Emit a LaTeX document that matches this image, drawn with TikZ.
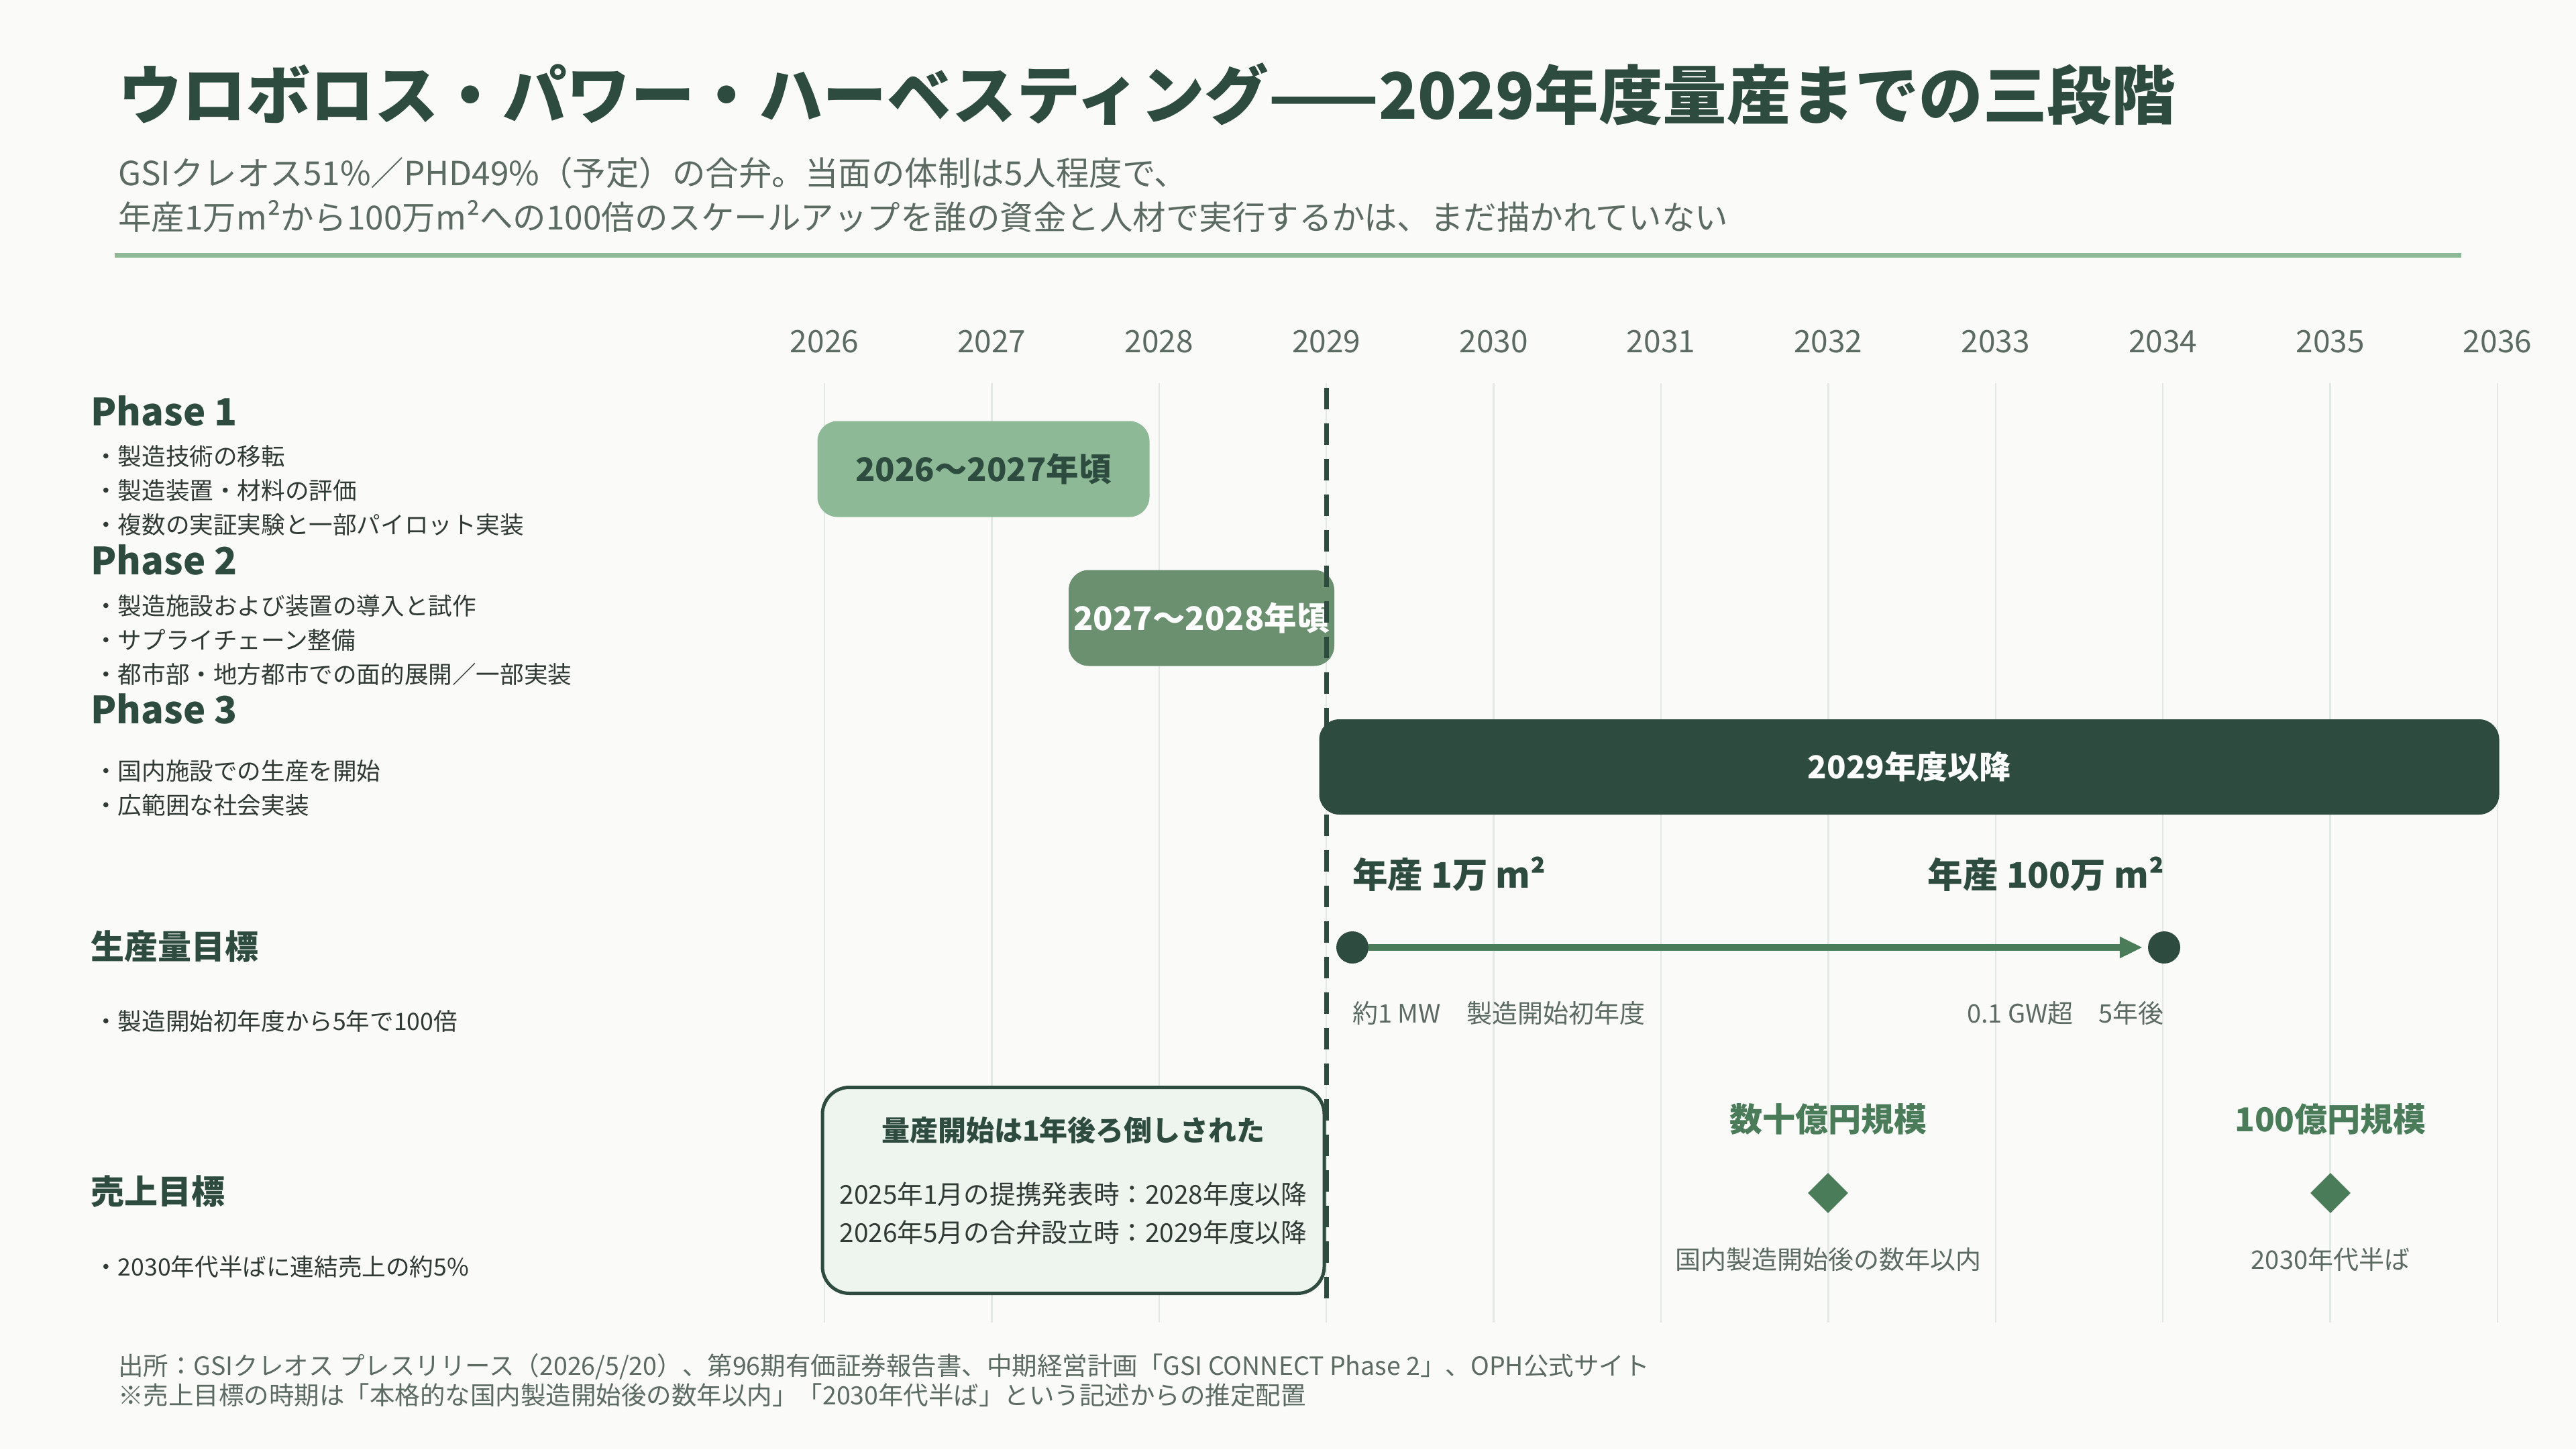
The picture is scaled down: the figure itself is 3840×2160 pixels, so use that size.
\documentclass[tikz,border=0pt]{standalone}
\usepackage{fontspec}
\setmainfont{Noto Sans CJK JP}
\usetikzlibrary{arrows.meta,shapes.geometric}
\definecolor{bg}{HTML}{FAFAF9}
\definecolor{dkgreen}{HTML}{2E4B3F}
\definecolor{mdgreen}{HTML}{4A7C59}
\definecolor{ltgreen}{HTML}{8DB996}
\definecolor{ptwogreen}{HTML}{6B9070}
\definecolor{txtgray}{HTML}{5B6B62}
\definecolor{bodytxt}{HTML}{2F3A34}
\definecolor{gridc}{HTML}{E2E8E4}
\definecolor{callfill}{HTML}{EEF4EE}
\begin{document}
\begin{tikzpicture}[x=1pt,y=-1pt,
  yrlab/.style={inner sep=0, font=\fontsize{46}{54}\selectfont, text=txtgray},
  gridln/.style={draw=gridc, line width=2.5pt},
  headlab/.style={anchor=west, inner sep=0, font=\bfseries\fontsize{56}{64}\selectfont, text=dkgreen},
  headjp/.style={anchor=west, inner sep=0, font=\bfseries\fontsize{50}{58}\selectfont, text=dkgreen},
  bullab/.style={anchor=west, inner sep=0, font=\fontsize{35.6}{42}\selectfont, text=bodytxt},
  barbox/.style={rectangle, rounded corners=30pt, inner sep=0, font=\bfseries\fontsize{48.5}{56}\selectfont},
  prodlab/.style={inner sep=0, font=\bfseries\fontsize{52.5}{60}\selectfont, text=dkgreen},
  smalllab/.style={inner sep=0, font=\fontsize{38}{46}\selectfont, text=txtgray},
  revlab/.style={inner sep=0, font=\bfseries\fontsize{49}{56}\selectfont, text=mdgreen},
  diam/.style={diamond, fill=mdgreen, inner sep=0, minimum width=60pt, minimum height=60pt},
  dot/.style={circle, fill=dkgreen, inner sep=0, minimum size=48pt},
  footlab/.style={anchor=west, inner sep=0, font=\fontsize{37.5}{44}\selectfont, text=txtgray}
]
\fill[bg] (0,0) rectangle (3840,2160);
\useasboundingbox (0,0) rectangle (3840,2160);

% title
\node[anchor=west, inner sep=0, font=\bfseries\fontsize{95.5}{110}\selectfont, text=dkgreen] (title) at (176,140)
  {ウロボロス・パワー・ハーベスティング——2029年度量産までの三段階};
\node[anchor=west, inner sep=0, align=left, font=\fontsize{49.5}{66}\selectfont, text=txtgray] (sub) at (176,290)
  {GSIクレオス51\%／PHD49\%（予定）の合弁。当面の体制は5人程度で、\\
   年産1万m²から100万m²への100倍のスケールアップを誰の資金と人材で実行するかは、まだ描かれていない};
\coordinate (rl) at (171,380);
\coordinate (rr) at (3669,380);
\draw[ltgreen, line width=7pt] (rl) -- (rr);

% years and grid
\foreach \yy [count=\i from 0] in {2026,...,2036} {
  \pgfmathsetmacro{\xx}{1229+\i*249.4}
  \node[yrlab] (y\yy) at (\xx,509) {\yy};
  \draw[gridln] (\xx,571) -- (\xx,1971);
}

% left column
\node[headlab] (ph1) at (135,613) {Phase 1};
\node[bullab] (ph1a) at (140,680) {・製造技術の移転};
\node[bullab] (ph1b) at (140,731) {・製造装置・材料の評価};
\node[bullab] (ph1c) at (140,782) {・複数の実証実験と一部パイロット実装};
\node[headlab] (ph2) at (135,835) {Phase 2};
\node[bullab] (ph2a) at (140,903) {・製造施設および装置の導入と試作};
\node[bullab] (ph2b) at (140,954) {・サプライチェーン整備};
\node[bullab] (ph2c) at (140,1005) {・都市部・地方都市での面的展開／一部実装};
\node[headlab] (ph3) at (135,1057) {Phase 3};
\node[bullab] (ph3a) at (140,1149) {・国内施設での生産を開始};
\node[bullab] (ph3b) at (140,1200) {・広範囲な社会実装};
\node[headjp] (prodh) at (135,1410) {生産量目標};
\node[bullab] (proda) at (140,1522) {・製造開始初年度から5年で100倍};
\node[headjp] (revh) at (135,1776) {売上目標};
\node[bullab] (reva) at (140,1888) {・2030年代半ばに連結売上の約5\%};

% phase bars
\node[barbox, fill=ltgreen, text=dkgreen, minimum width=495pt, minimum height=143pt] (bar1) at (1466,699) {2026〜2027年頃};
\node[barbox, fill=ptwogreen, text=white, minimum width=396pt, minimum height=143pt] (bar2) at (1791,921) {2027〜2028年頃};
\node[barbox, fill=dkgreen, text=white, minimum width=1759pt, minimum height=142pt, font=\bfseries\fontsize{47}{56}\selectfont] (bar3) at (2846,1143) {2029年度以降};

% production target
\node[prodlab, anchor=west] (pl1) at (2016,1303) {年産 1万 m²};
\node[prodlab, anchor=east] (pl2) at (3226,1303) {年産 100万 m²};
\node[dot] (c1) at (2016,1412) {};
\node[dot] (c2) at (3226,1412) {};
\draw[mdgreen, line width=10pt, -{Triangle[length=34pt,width=30pt]}, shorten >=8pt] (c1.east) -- (c2.west);
\node[smalllab, anchor=west] (ps1) at (2016,1510) {約1 MW　製造開始初年度};
\node[smalllab, anchor=east] (ps2) at (3226,1510) {0.1 GW超　5年後};

% revenue target
\node[revlab] (rv1) at (2725,1668) {数十億円規模};
\node[diam] (dm1) at (2725,1778) {};
\node[smalllab] (rs1) at (2725,1877) {国内製造開始後の数年以内};
\node[revlab] (rv2) at (3474,1668) {100億円規模};
\node[diam] (dm2) at (3474,1778) {};
\node[smalllab] (rs2) at (3474,1877) {2030年代半ば};

% callout
\node[rectangle, rounded corners=40pt, draw=dkgreen, line width=5pt, fill=callfill, minimum width=748pt, minimum height=307pt] (cb) at (1600,1774) {};
\node[inner sep=0, font=\bfseries\fontsize{42}{50}\selectfont, text=dkgreen] (cbt) at (1600,1685) {量産開始は1年後ろ倒しされた};
\node[inner sep=0, font=\fontsize{38.7}{46}\selectfont, text=bodytxt] (cb1) at (1600,1780) {2025年1月の提携発表時：2028年度以降};
\node[inner sep=0, font=\fontsize{38.7}{46}\selectfont, text=bodytxt] (cb2) at (1600,1837) {2026年5月の合弁設立時：2029年度以降};

% 2029 dashed marker
\coordinate (dtop) at (1977,578);
\coordinate (dbot) at (1977,1947);
\draw[dkgreen, line width=7pt, dash pattern=on 32pt off 21pt] (dtop) -- (dbot);

% footer
\node[footlab] (f1) at (176,2037) {出所：GSIクレオス プレスリリース（2026/5/20）、第96期有価証券報告書、中期経営計画「GSI CONNECT Phase 2」、OPH公式サイト};
\node[footlab] (f2) at (176,2079) {※売上目標の時期は「本格的な国内製造開始後の数年以内」「2030年代半ば」という記述からの推定配置};
\end{tikzpicture}
\end{document}
